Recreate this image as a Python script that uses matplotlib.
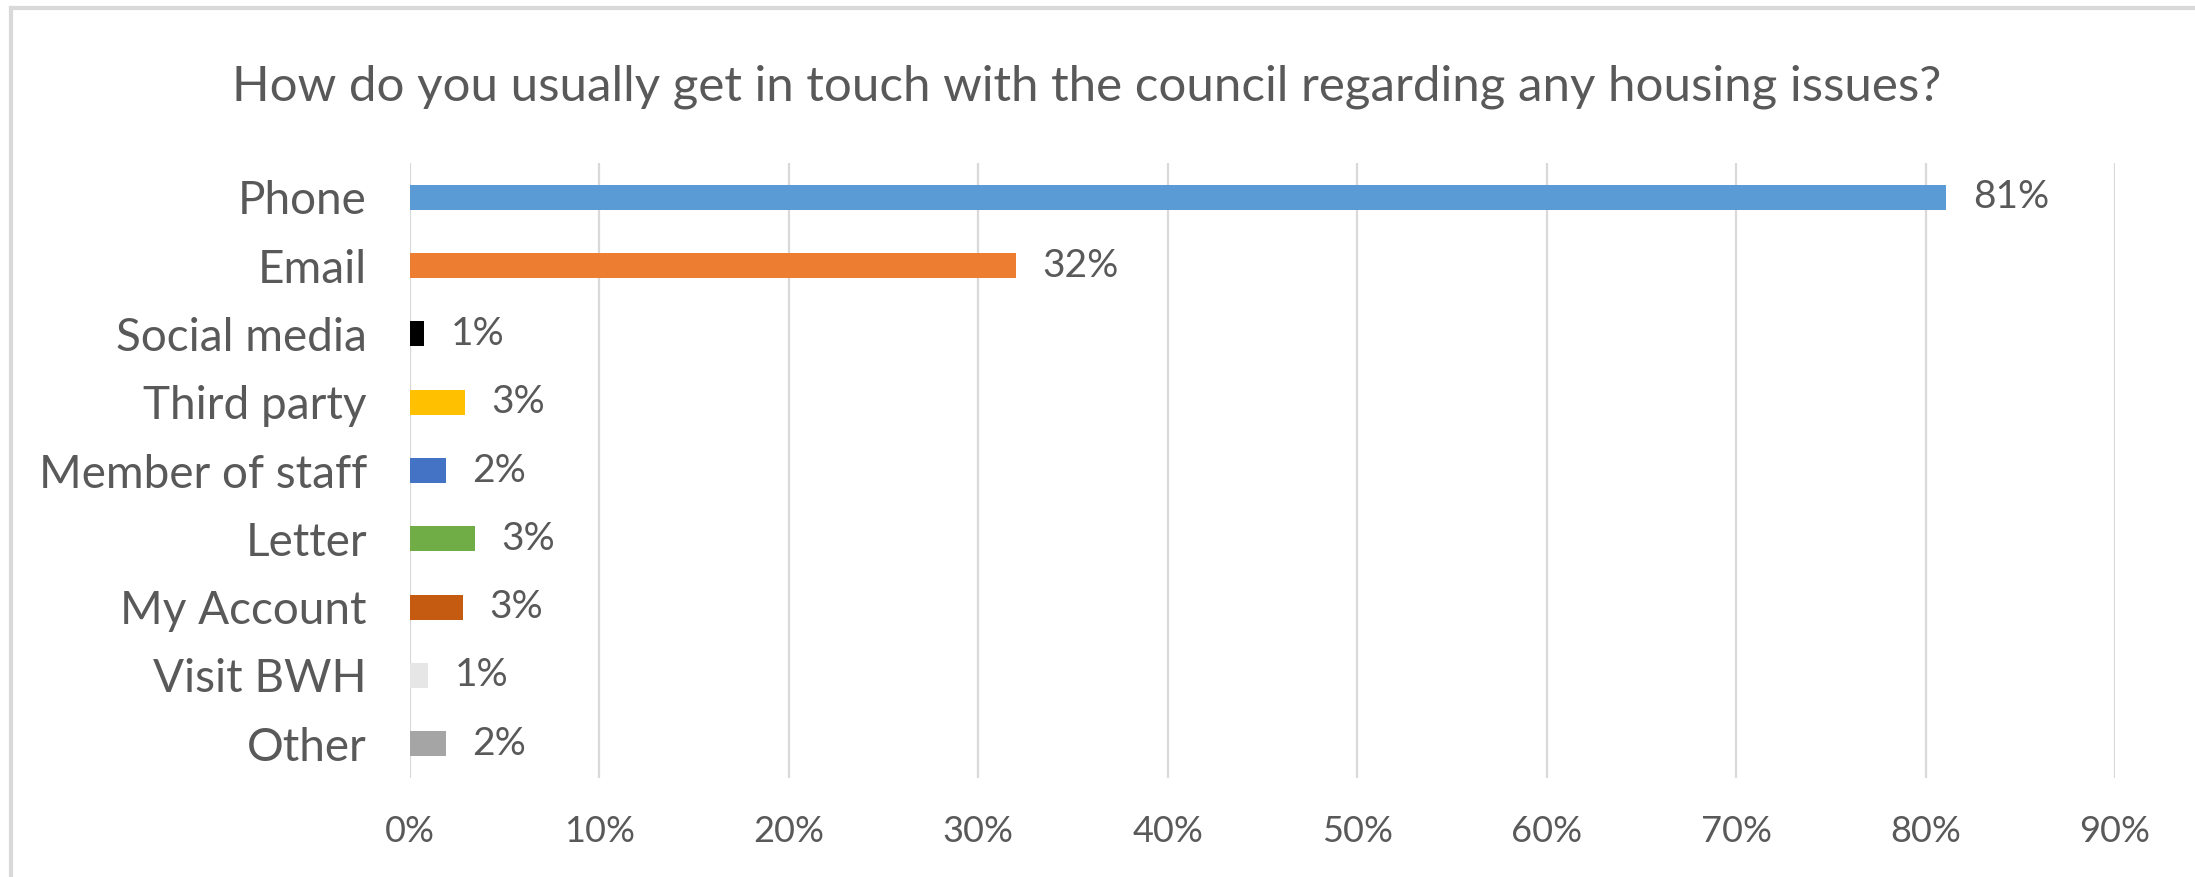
import matplotlib
matplotlib.use('Agg')
import matplotlib.pyplot as plt
from matplotlib.lines import Line2D
import numpy as np

plt.rcParams['font.family'] = ['Lato', 'DejaVu Sans']

#### data
categories = ['Phone', 'Email', 'Social media', 'Third party', 'Member of staff',
              'Letter', 'My Account', 'Visit BWH', 'Other']
values = [81.1, 32.0, 0.74, 2.9, 1.9, 3.45, 2.8, 0.95, 1.9]
colors = ['#5B9BD5', '#ED7D31', '#000000', '#FFC000', '#4472C4',
          '#70AD47', '#C55A11', '#E7E6E6', '#A5A5A5']
xticks = [0, 10, 20, 30, 40, 50, 60, 70, 80, 90]
title = 'How do you usually get in touch with the council regarding any housing issues?'

txt = '#595959'

fig = plt.figure(figsize=(21.95, 8.77), dpi=100)
ax = fig.add_axes([0.1868, 0.1129, 0.9636 - 0.1868, 0.8141 - 0.1129])

y = np.arange(len(categories))
ax.barh(y, values, height=0.37, color=colors, zorder=3)
for yi, v in zip(y, values):
    ax.annotate('%d%%' % round(v), xy=(v, yi), xytext=(19, 0), textcoords='offset points',
                ha='left', va='center', fontsize=28, color=txt)

ax.set_xlim(0, 90)
ax.set_ylim(len(categories) - 0.5, -0.5)
ax.set_xticks(xticks)
ax.set_xticklabels(['%d%%' % t for t in xticks], fontsize=26, color=txt)
ax.set_yticks(y)
ax.set_yticklabels(categories, fontsize=33, color=txt)
ax.tick_params(axis='x', length=0, pad=27)
ax.tick_params(axis='y', length=0, pad=31)
ax.grid(axis='x', color='#D9D9D9', linewidth=1.6, zorder=0)
for s in ax.spines.values():
    s.set_visible(False)

fig.text(0.495, 0.901, title, ha='center', va='center', fontsize=35.5, color=txt)

# chart frame (only left and top visible in the crop)
fig.add_artist(Line2D([0.005, 0.005], [0, 0.991], color='#D9D9D9', linewidth=3,
                      transform=fig.transFigure))
fig.add_artist(Line2D([0.005, 1], [0.991, 0.991], color='#D9D9D9', linewidth=3,
                      transform=fig.transFigure))

fig.savefig('out.png', dpi=100)
